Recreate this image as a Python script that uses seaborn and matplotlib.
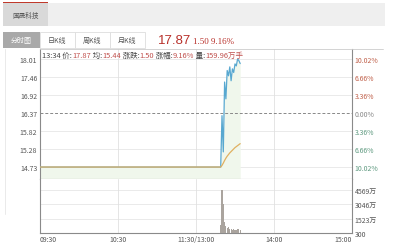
import matplotlib
matplotlib.use("Agg")
import matplotlib.pyplot as plt
import seaborn as sns
import pandas as pd
from matplotlib.patches import Rectangle
from matplotlib.lines import Line2D

# ---------------- data ----------------
stock_name = "国晟科技"
tabs = ["分时图", "日K线", "周K线", "月K线"]
last_price = "17.87"
change_text = "1.50 9.16%"
header_pairs = [("13:34 价:", "17.87"), (" 均:", "15.44"), (" 涨跌:", "1.50"),
                (" 涨幅:", "9.16%"), (" 量:", "159.96万手")]

pre_close = 16.37
price_ticks = [14.73, 15.28, 15.82, 16.37, 16.92, 17.46, 18.01]
pct_labels = ["10.02%", "6.66%", "3.36%", "0.00%", "3.36%", "6.66%", "10.02%"]
time_ticks = [0, 60, 120, 180, 240]
time_labels = ["09:30", "10:30", "11:30/13:00", "14:00", "15:00"]

minutes = [0, 139, 140, 141, 142, 143, 144, 145, 146, 147, 148, 149, 150, 151, 152, 153, 154]
price = [14.73, 14.73, 16.29, 15.19, 17.31, 16.80, 17.66, 17.50, 17.77, 17.35,
         17.71, 17.60, 17.86, 17.80, 18.01, 17.96, 17.87]
avg_price = [14.73, 14.73, 14.78, 14.85, 14.93, 15.00, 15.06, 15.11, 15.16, 15.20,
             15.24, 15.28, 15.32, 15.35, 15.38, 15.41, 15.44]

vol_minutes = [139, 140, 141, 142, 143, 144, 145, 146, 147, 148, 149, 150, 151, 152, 153, 154]
volume = [800, 4569, 3100, 1200, 700, 500, 600, 400, 450, 350, 400, 300, 350, 400, 450, 300]
vol_ticks = [0, 1523, 3046, 4569]
vol_labels = ["300", "1523万", "3046万", "4569万"]

# ---------------- style ----------------
sns.set_theme(style="white")
plt.rcParams["font.family"] = ["Noto Sans CJK SC", "DejaVu Sans"]

W, H = 400, 251
fig = plt.figure(figsize=(W / 100, H / 100), dpi=100)
fig.patch.set_facecolor("white")

def fax(l, t, r, b):
    return [l / W, 1 - b / H, (r - l) / W, (b - t) / H]

# background / header drawing layer
bg = fig.add_axes([0, 0, 1, 1], zorder=-5)
bg.set_xlim(0, W)
bg.set_ylim(H, 0)
bg.axis("off")
bg.add_patch(Rectangle((3, 4), 382, 23, color="#efefef", lw=0))
bg.add_patch(Rectangle((3, 4), 45, 23, color="#d9d9d9", lw=0))
bg.add_patch(Rectangle((3, 3), 45, 1.3, color="#c0392b", lw=0))
bg.text(25.5, 16, stock_name, fontsize=4.8, color="#555555", ha="center", va="center")

tab_x = [3, 40, 75, 110, 145]
for i, name in enumerate(tabs):
    x0, x1 = tab_x[i], tab_x[i + 1]
    if i == 0:
        bg.add_patch(Rectangle((x0, 33), x1 - x0, 16, color="#a9a9a9", lw=0))
        col = "white"
    else:
        bg.add_patch(Rectangle((x0, 33), x1 - x0, 16, facecolor="white",
                               edgecolor="#dddddd", lw=0.6))
        col = "#555555"
    bg.text((x0 + x1) / 2, 41, name, fontsize=5, color=col, ha="center", va="center")

bg.text(158, 41.5, last_price, fontsize=9.5, color="#b8302a", ha="left", va="center",
        family=["Liberation Sans", "DejaVu Sans"])
bg.text(193, 42, change_text, fontsize=6.5, color="#b8302a", ha="left", va="center",
        family=["Liberation Serif", "DejaVu Serif"])
bg.add_line(Line2D([40, 383], [49.5, 49.5], color="#cccccc", lw=0.6))
bg.add_line(Line2D([4.5, 4.5], [50, 215], color="#e6e6e6", lw=0.6))

# ---------------- price panel ----------------
ax = fig.add_axes(fax(40, 50, 352, 180))
df = pd.DataFrame({"minute": minutes, "price": price, "avg": avg_price})
ymin, ymax = 14.367, 18.313
ax.fill_between(df["minute"], df["price"], ymin, color="#f0f7ec", lw=0, zorder=1)
sns.lineplot(data=df, x="minute", y="price", ax=ax, color="#58a8d0", lw=0.9, zorder=3)
sns.lineplot(data=df, x="minute", y="avg", ax=ax, color="#e0b060", lw=0.9, zorder=4)
ax.set_xlim(0, 240)
ax.set_ylim(ymin, ymax)
ax.set_xlabel("")
ax.set_ylabel("")
ax.set_yticks(price_ticks)
ax.set_yticklabels([f"{v:.2f}" for v in price_ticks])
ax.set_xticks(time_ticks)
ax.set_xticklabels([])
ax.tick_params(axis="both", length=0, labelsize=5, colors="#555555", pad=2)
for v in price_ticks:
    if v != pre_close:
        ax.axhline(v, color="#e6e6e6", lw=0.6, zorder=0)
ax.axhline(pre_close, color="#888888", lw=0.7, ls=(0, (3, 2)), zorder=2)
for t in time_ticks[1:-1]:
    ax.axvline(t, color="#e0e0e0", lw=0.6, zorder=0)
for s in ["left", "right", "bottom"]:
    ax.spines[s].set_color("#8a8a8a")
    ax.spines[s].set_linewidth(0.8)
ax.spines["top"].set_color("#cccccc")
ax.spines["top"].set_linewidth(0.6)

ax2 = ax.twinx()
ax2.set_ylim(ymin, ymax)
ax2.set_yticks(price_ticks)
ax2.set_yticklabels(pct_labels)
ax2.tick_params(axis="y", length=0, labelsize=5, pad=2)
for i, lab in enumerate(ax2.get_yticklabels()):
    if i > 3:
        lab.set_color("#c0604a")
    elif i == 3:
        lab.set_color("#888888")
    else:
        lab.set_color("#5f9a80")
for s in ax2.spines.values():
    s.set_visible(False)

# header text inside chart
hfs = 5.4
t = ax.annotate(header_pairs[0][0], xy=(0.007, 0.92), xycoords="axes fraction",
                fontsize=hfs, color="#444444", va="bottom", ha="left")
first = True
for label, value in header_pairs:
    if not first:
        t = ax.annotate(label, xy=(1, 0), xycoords=t, fontsize=hfs, color="#444444",
                        va="bottom", ha="left")
    first = False
    t = ax.annotate(value, xy=(1, 0), xycoords=t, fontsize=hfs, color="#c0504d",
                    va="bottom", ha="left")

# ---------------- volume panel ----------------
axv = fig.add_axes(fax(40, 180, 352, 234))
vdf = pd.DataFrame({"minute": vol_minutes, "volume": volume})
axv.bar(vdf["minute"], vdf["volume"], width=0.8, color="#aaa49e", lw=0, zorder=3)
axv.set_xlim(0, 240)
axv.set_ylim(0, 5698)
axv.set_xticks(time_ticks)
axv.set_xticklabels(time_labels)
axv.set_yticks(vol_ticks)
axv.set_yticklabels([])
axv.tick_params(axis="both", length=0, labelsize=5, colors="#555555", pad=1.5)
xl = axv.get_xticklabels()
xl[0].set_ha("left")
xl[-1].set_ha("right")
for v in vol_ticks[1:]:
    axv.axhline(v, color="#e6e6e6", lw=0.6, zorder=0)
for tt in time_ticks[1:-1]:
    axv.axvline(tt, color="#e0e0e0", lw=0.6, zorder=0)
for s in ["left", "right", "bottom"]:
    axv.spines[s].set_color("#8a8a8a")
    axv.spines[s].set_linewidth(0.8)
axv.spines["top"].set_visible(False)

axv2 = axv.twinx()
axv2.set_ylim(0, 5698)
axv2.set_yticks(vol_ticks)
axv2.set_yticklabels(vol_labels)
axv2.tick_params(axis="y", length=0, labelsize=5, colors="#555555", pad=2)
for s in axv2.spines.values():
    s.set_visible(False)

fig.savefig("out.png", dpi=100)
